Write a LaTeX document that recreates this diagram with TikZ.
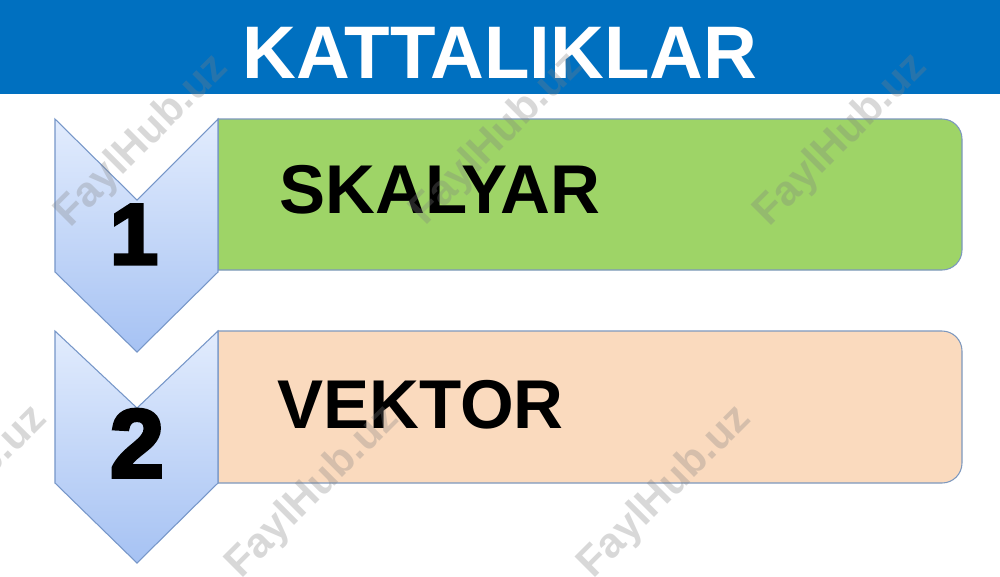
\documentclass[tikz,border=0pt]{standalone}
\usepackage{fontspec}
\setmainfont{Liberation Sans}
\newfontfamily\numfont{Liberation Sans}[UprightFont=* Bold, FakeBold=4]
\definecolor{titleblue}{RGB}{0,112,192}
\definecolor{boxgreen}{RGB}{158,212,103}
\definecolor{boxpeach}{RGB}{250,218,190}
\definecolor{chevtop}{RGB}{226,236,253}
\definecolor{chevbot}{RGB}{166,194,243}
\definecolor{chevline}{RGB}{118,150,200}
\definecolor{boxline}{RGB}{125,152,190}
\definecolor{wmgray}{RGB}{128,128,128}
\tikzset{
  chevron/.style={top color=chevtop, bottom color=chevbot, draw=chevline, line width=0.6pt, line join=miter},
  listbox/.style={draw=boxline, line width=0.6pt},
  itemtext/.style={font=\bfseries\fontsize{39.3}{41}\selectfont, anchor=base west, inner sep=0pt},
  numtext/.style={anchor=base, inner sep=0pt},
  wmark/.style={font=\bfseries\fontsize{24}{26}\selectfont, text=wmgray, text opacity=0.3, rotate=45, inner sep=0pt}
}
\begin{document}
\begin{tikzpicture}[x=0.02cm, y=-0.02cm]
\useasboundingbox (0,0) rectangle (1000,576);
\fill[white] (0,0) rectangle (1000,576);
% title bar
\fill[titleblue] (0,0) rectangle (1000,94);
\node[font=\bfseries\fontsize{42.4}{44}\selectfont, text=white, anchor=base, inner sep=0pt] (title) at (500,78) {KATTALIKLAR};
% boxes
\draw[listbox, fill=boxgreen] (218,119) -- (942,119) arc[start angle=90, end angle=0, radius=0.4cm] -- (962,250) arc[start angle=0, end angle=-90, radius=0.4cm] -- (218,270) -- cycle;
\draw[listbox, fill=boxpeach] (218,331) -- (942,331) arc[start angle=90, end angle=0, radius=0.4cm] -- (962,463) arc[start angle=0, end angle=-90, radius=0.4cm] -- (218,483) -- cycle;
% chevrons
\draw[chevron] (55,119) -- (137,200) -- (218,119) -- (218,272) -- (137,352) -- (55,272) -- cycle;
\draw[chevron] (55,331) -- (137,408) -- (218,331) -- (218,483) -- (137,563) -- (55,483) -- cycle;
% texts
\node[itemtext] (skalyar) at (279,213) {SKALYAR};
\node[itemtext] (vektor) at (277,428) {VEKTOR};
\node[numtext, font=\numfont\fontsize{49}{50}\selectfont] (n1) at (134,264) {1};
\node[numtext, font=\numfont\fontsize{55}{56}\selectfont] (n2) at (137,477) {2};
% watermarks
\begin{scope}
\clip (0,0) rectangle (1000,576);
\node[wmark] (w1) at (142,141) {FaylHub.uz};
\node[wmark] (w2) at (497,139) {FaylHub.uz};
\node[wmark] (w3) at (841,140) {FaylHub.uz};
\node[wmark] (w4) at (-39,492) {FaylHub.uz};
\node[wmark] (w5) at (313,492) {FaylHub.uz};
\node[wmark] (w6) at (665,492) {FaylHub.uz};
\end{scope}
\end{tikzpicture}
\end{document}
